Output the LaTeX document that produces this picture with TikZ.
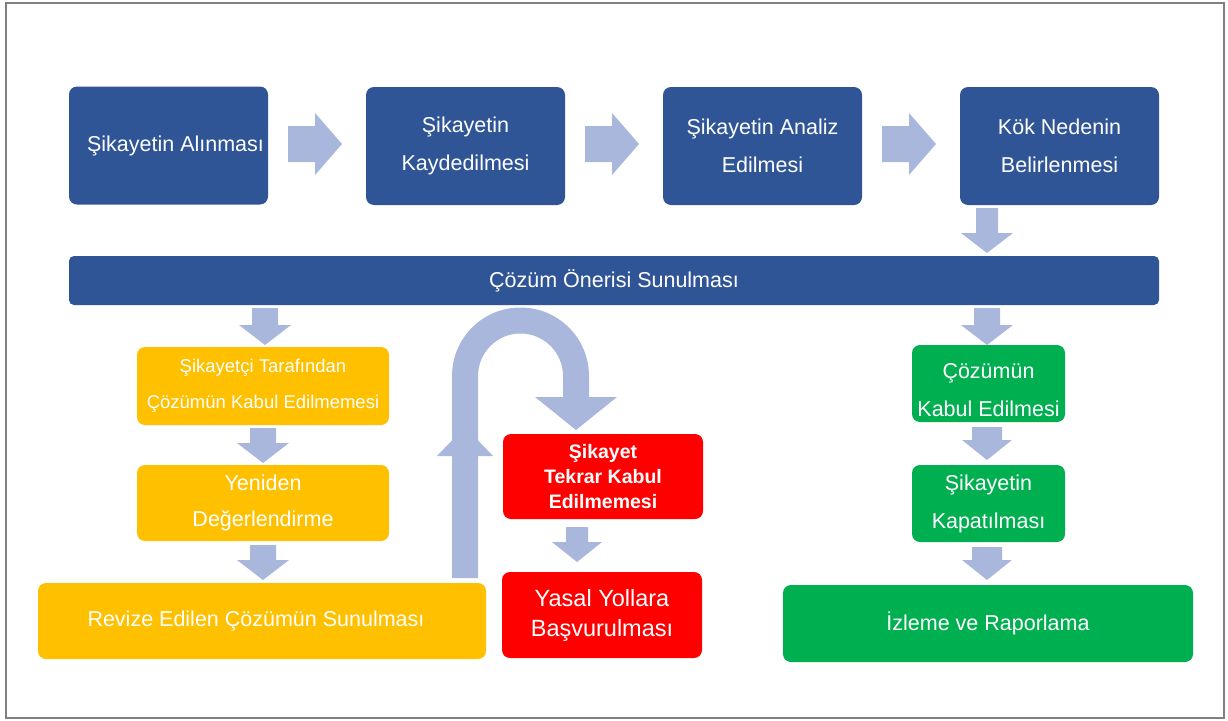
\documentclass[tikz,border=0pt]{standalone}
\usepackage{fontspec}
\setmainfont{Liberation Sans}
\usetikzlibrary{calc}
\definecolor{dblue}{HTML}{2F5597}
\definecolor{arrc}{HTML}{A9B7DD}
\definecolor{yel}{HTML}{FFC000}
\definecolor{redbox}{HTML}{FF0000}
\definecolor{grn}{HTML}{00B050}
\definecolor{framec}{HTML}{808080}
\newcommand\rblk[2]{\fill[arrc] (#1,#2-18) -- (#1+27,#2-18) -- (#1+27,#2-31) -- (#1+54,#2) -- (#1+27,#2+31) -- (#1+27,#2+18) -- (#1,#2+18) -- cycle;}
\newcommand\dblk[5]{\fill[arrc] (#1-#4,#2) -- (#1+#4,#2) -- (#1+#4,#3-20) -- (#1+#5,#3-20) -- (#1,#3) -- (#1-#5,#3-20) -- (#1-#4,#3-20) -- cycle;}
\begin{document}
\begin{tikzpicture}[x=1pt,y=-1pt,
  box/.style={rounded corners=8pt, text=white, align=center, inner sep=0pt},
  bluebox/.style={box, fill=dblue, minimum width=199pt, minimum height=118pt, font=\fontsize{21.5}{38}\selectfont},
  yelbox/.style={box, fill=yel},
  redb/.style={box, fill=redbox, minimum width=200pt},
  grnbox/.style={box, fill=grn, font=\fontsize{21.5}{38}\selectfont}]
\useasboundingbox (0,0) rectangle (1228,720);
\draw[framec, line width=2.5pt] (6,3) rectangle (1224,718);

% top row
\node[bluebox] (k1) at (168.5,145.5) {\hspace*{14pt}Şikayetin Alınması};
\node[bluebox] (k2) at (465.5,146) {Şikayetin\\Kaydedilmesi};
\node[bluebox] (k3) at (762.5,146) {Şikayetin Analiz\\Edilmesi};
\node[bluebox] (k4) at (1059.5,146) {Kök Nedenin\\Belirlenmesi};

\rblk{288}{144}
\rblk{585}{144}
\rblk{882}{144}
\dblk{987}{208}{253}{11}{26}

% bar
\node[box, fill=dblue, rounded corners=5pt, minimum width=1090pt, minimum height=49pt, font=\fontsize{21.5}{26}\selectfont] (bar) at (614,280.5) {Çözüm Önerisi Sunulması};

\dblk{265}{308}{345}{13}{26}
\dblk{987}{308}{345}{13}{26}

% yellow column
\node[yelbox, minimum width=252pt, minimum height=78pt, font=\fontsize{18.5}{36}\selectfont] (y1) at (263,386) {Şikayetçi Tarafından\\Çözümün Kabul Edilmemesi};
\dblk{263}{428}{463}{13}{26}
\node[yelbox, minimum width=252pt, minimum height=76pt, font=\fontsize{21.5}{36}\selectfont] (y2) at (263,503) {Yeniden\\Değerlendirme};
\dblk{263}{545}{580}{13}{26}
\node[yelbox, minimum width=448pt, minimum height=76pt, font=\fontsize{21.5}{26}\selectfont] (y3) at (262,621) {Revize Edilen Çözümün Sunulması\hspace*{12pt}};

% U-turn arrow
\fill[arrc] (452,578) -- (452,376) arc[start angle=180, end angle=360, radius=68.5] -- (589,397) -- (617,397) -- (576,430) -- (535,397) -- (563,397) -- (563,376) arc[start angle=360, end angle=180, radius=42.5] -- (478,578) -- cycle;
\fill[arrc] (437,456) -- (493,456) -- (465,427) -- cycle;

% red column
\node[redb, minimum height=85pt, font=\bfseries\fontsize{19.5}{25}\selectfont] (r1) at (603,476.5) {Şikayet\\Tekrar Kabul\\Edilmemesi};
\dblk{577}{527}{562}{11}{25}
\node[redb, minimum height=86pt, font=\fontsize{23.5}{30}\selectfont] (r2) at (602,615) {Yasal Yollara\\Başvurulması};

% green column
\node[grnbox, minimum width=153pt, minimum height=77pt] (g1) at (988.5,383.5) {\raisebox{-6.5pt}[\height][\depth]{\begin{tabular}{@{}c@{}}Çözümün\\Kabul Edilmesi\end{tabular}}};
\dblk{987}{427}{460}{15}{25}
\node[grnbox, minimum width=153pt, minimum height=77pt] (g2) at (988.5,503.5) {Şikayetin\\Kapatılması};
\dblk{987}{547}{580}{15}{25}
\node[grnbox, minimum width=410pt, minimum height=77pt] (g3) at (988,623.5) {İzleme ve Raporlama};
\end{tikzpicture}
\end{document}
